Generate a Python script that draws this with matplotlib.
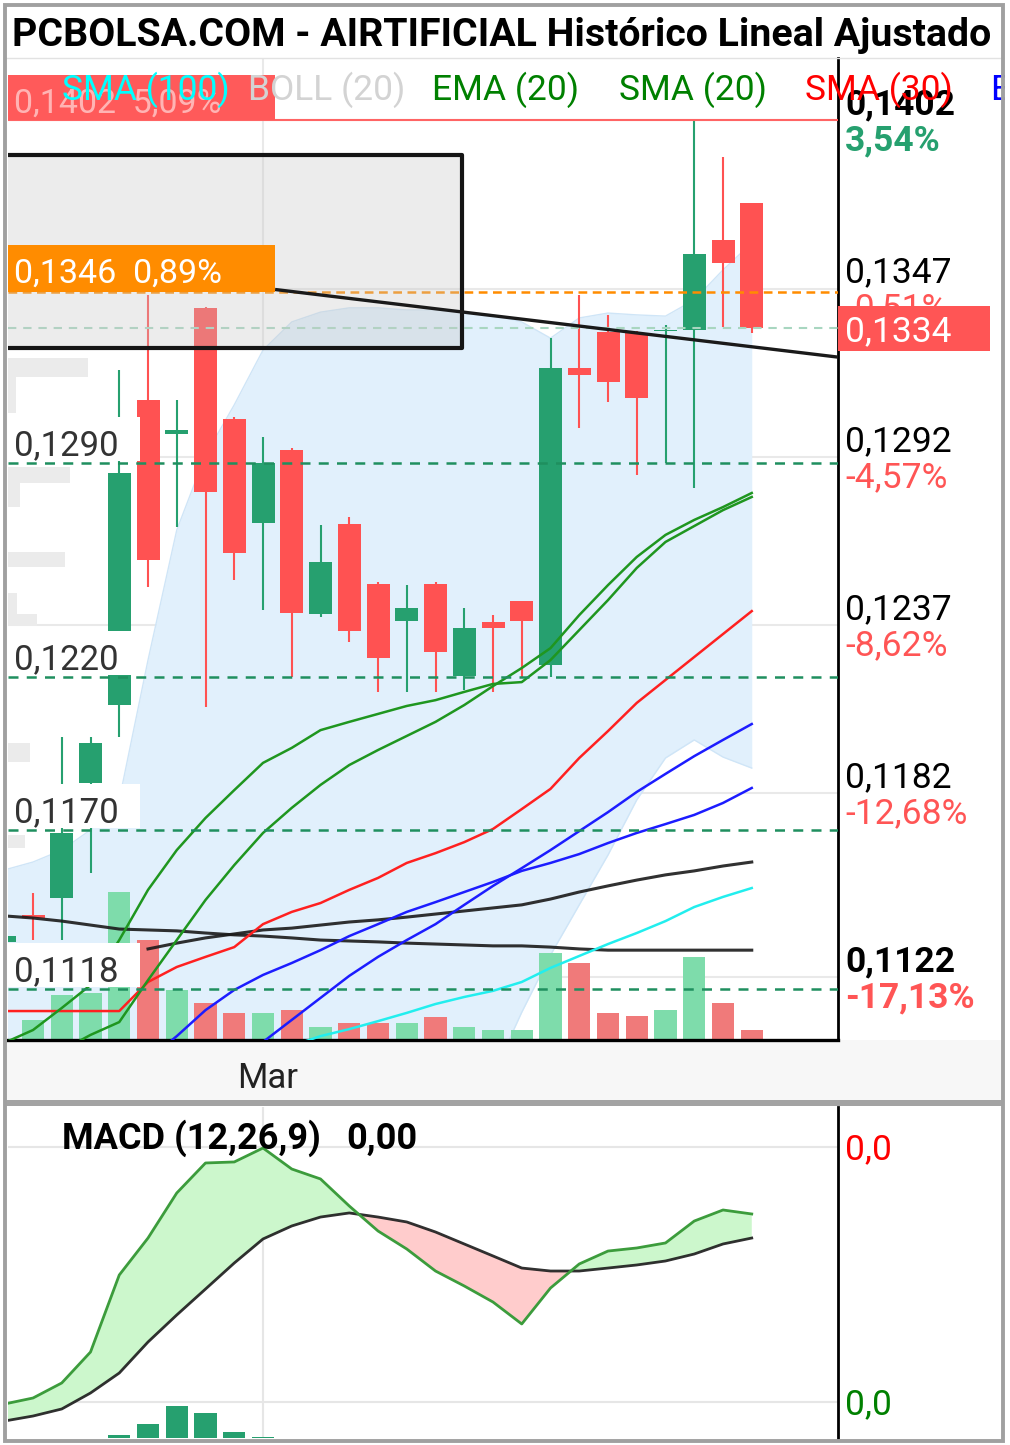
import numpy as np
import matplotlib
matplotlib.use("Agg")
import matplotlib.pyplot as plt
from matplotlib import transforms
from matplotlib.patches import Rectangle
from matplotlib.lines import Line2D

plt.rcParams['font.family'] = ['Roboto', 'DejaVu Sans']

# ------------------------------------------------------------------ data
idx = list(range(-1, 26))          # candle slots (slot 8 = first session of March)
month_ticks = [8]
month_labels = ['Mar']

opens = [0.11335, 0.11423, 0.11478, 0.11854, 0.12109, 0.13106, 0.12995, 0.13407, 0.13044,
         0.12704, 0.12942, 0.12407, 0.12701, 0.12505, 0.12384, 0.12505, 0.12204, 0.12380,
         0.12449, 0.12240, 0.13210, 0.13328, 0.13325, 0.13330, 0.13335, 0.13629, 0.13750]
closes = [0.11354, 0.11413, 0.11691, 0.11985, 0.12867, 0.12583, 0.13008, 0.12805, 0.12606,
          0.12900, 0.12410, 0.12576, 0.12351, 0.12263, 0.12426, 0.12282, 0.12361, 0.12361,
          0.12384, 0.13210, 0.13188, 0.13165, 0.13112, 0.13333, 0.13583, 0.13554, 0.13340]
highs = [0.11360, 0.11495, 0.12005, 0.12005, 0.13204, 0.13450, 0.13106, 0.13410, 0.13050,
         0.12985, 0.12950, 0.12697, 0.12724, 0.12510, 0.12501, 0.12510, 0.12426, 0.12403,
         0.12450, 0.13308, 0.13449, 0.13384, 0.13330, 0.13351, 0.14021, 0.13900, 0.13750]
lows = [0.11330, 0.11341, 0.11341, 0.11560, 0.12005, 0.12495, 0.12691, 0.12103, 0.12518,
        0.12420, 0.12201, 0.12397, 0.12315, 0.12152, 0.12152, 0.12152, 0.12158, 0.12152,
        0.12201, 0.12201, 0.13014, 0.13099, 0.12861, 0.12900, 0.12818, 0.13344, 0.13325]
volumes = [0, 20000, 45000, 47000, 148000, 100000, 50000, 37000, 27000, 27000, 30000, 13000,
           17000, 17000, 17000, 23000, 13000, 10000, 10000, 87000, 77000, 27000, 24000, 30000,
           83000, 37000, 10000]
volume_up = [1, 1, 1, 1, 1, 0, 1, 0, 0, 1, 0, 1, 0, 0, 1, 0, 1, 1, 1, 1, 0, 0, 0, 1, 1, 0, 0]

nan = np.nan
boll_upper = [0.11570, 0.11596, 0.11635, 0.11701, 0.11799, 0.12256, 0.12681, 0.12926, 0.13090,
              0.13269, 0.13361, 0.13393, 0.13407, 0.13407, 0.13400, 0.13400, 0.13393, 0.13384,
              0.13361, 0.13308, 0.13374, 0.13390, 0.13384, 0.13380, 0.13433, 0.13531, 0.13619]
boll_lower = [0.10980, 0.10970, 0.10950, 0.10930, 0.10880, 0.10700, 0.10600, 0.10550, 0.10520,
              0.10500, 0.10520, 0.10580, 0.10650, 0.10720, 0.10800, 0.10860, 0.10920, 0.10900,
              0.11105, 0.11292, 0.11456, 0.11619, 0.11799, 0.11936, 0.11995, 0.11939, 0.11903]
ema20 = [0.11005, 0.11047, 0.11119, 0.11194, 0.11341, 0.11505, 0.11635, 0.11740, 0.11831,
         0.11920, 0.11969, 0.12027, 0.12054, 0.12080, 0.12106, 0.12125, 0.12152, 0.12178,
         0.12184, 0.12256, 0.12354, 0.12452, 0.12557, 0.12642, 0.12694, 0.12746, 0.12789]
sma20 = [nan, nan, 0.10980, 0.11031, 0.11073, 0.11210, 0.11341, 0.11472, 0.11586,
         0.11691, 0.11773, 0.11848, 0.11913, 0.11962, 0.12008, 0.12054, 0.12109, 0.12171,
         0.12230, 0.12295, 0.12403, 0.12501, 0.12593, 0.12665, 0.12714, 0.12756, 0.12802]
sma30 = [0.11109, 0.11109, 0.11109, 0.11109, 0.11109, 0.11204, 0.11253, 0.11286, 0.11318,
         0.11393, 0.11433, 0.11462, 0.11505, 0.11544, 0.11593, 0.11625, 0.11661, 0.11704,
         0.11769, 0.11835, 0.11936, 0.12024, 0.12116, 0.12191, 0.12266, 0.12341, 0.12416]
blue_fast = [nan, nan, nan, nan, nan, nan, nan, nan, 0.10930,
             0.11008, 0.11080, 0.11152, 0.11224, 0.11286, 0.11341, 0.11393, 0.11456, 0.11518,
             0.11576, 0.11635, 0.11697, 0.11759, 0.11825, 0.11884, 0.11942, 0.11995, 0.12047]
blue_slow = [nan, nan, nan, nan, nan, 0.10950, 0.11027, 0.11112, 0.11178,
             0.11227, 0.11266, 0.11308, 0.11354, 0.11393, 0.11433, 0.11465, 0.11498, 0.11531,
             0.11567, 0.11593, 0.11622, 0.11658, 0.11691, 0.11720, 0.11750, 0.11789, 0.11838]
sma100 = [nan, nan, nan, nan, nan, nan, nan, nan, nan,
          nan, 0.10995, 0.11027, 0.11050, 0.11076, 0.11103, 0.11132, 0.11155, 0.11175,
          0.11204, 0.11250, 0.11289, 0.11328, 0.11364, 0.11403, 0.11449, 0.11482, 0.11511]
black_rise = [nan, nan, nan, nan, nan, 0.11312, 0.11331, 0.11348, 0.11361,
              0.11374, 0.11380, 0.11390, 0.11400, 0.11407, 0.11416, 0.11426, 0.11436, 0.11446,
              0.11456, 0.11475, 0.11498, 0.11518, 0.11537, 0.11554, 0.11567, 0.11583, 0.11596]
black_fall = [0.11420, 0.11413, 0.11403, 0.11390, 0.11377, 0.11374, 0.11371, 0.11364, 0.11358,
              0.11354, 0.11348, 0.11341, 0.11338, 0.11335, 0.11331, 0.11328, 0.11325, 0.11322,
              0.11322, 0.11318, 0.11312, 0.11308, 0.11308, 0.11308, 0.11308, 0.11308, 0.11308]

macd = [-0.000024, 0.000047, 0.000224, 0.000588, 0.001494, 0.001929, 0.002459, 0.002812, 0.002824,
        0.002988, 0.002741, 0.002624, 0.002306, 0.002012, 0.001800, 0.001541, 0.001365, 0.001176,
        0.000918, 0.001341, 0.001624, 0.001776, 0.001812, 0.001871, 0.002129, 0.002259, 0.002212]
macd_signal = [-0.000224, -0.000165, -0.000082, 0.000106, 0.000341, 0.000706, 0.001024, 0.001329,
               0.001635, 0.001918, 0.002071, 0.002176, 0.002224, 0.002176, 0.002118, 0.002000,
               0.001859, 0.001718, 0.001576, 0.001541, 0.001541, 0.001576, 0.001612, 0.001659,
               0.001741, 0.001859, 0.001929]
macd_hist = [0, 0, 0, 0, 0.00003, 0.00014, 0.00032, 0.00025, 0.00006, 0.00001, 0, 0, 0, 0,
             0, 0, 0, 0, 0, 0, 0, 0, 0, 0, 0, 0, 0]

right_ticks = [0.1402, 0.1347, 0.1292, 0.1237, 0.1182, 0.1122]
right_tick_labels = ['0,1402', '0,1347', '0,1292', '0,1237', '0,1182', '0,1122']
right_pct_labels = ['3,54%', '-0,51%', '-4,57%', '-8,62%', '-12,68%', '-17,13%']
right_bold = [True, False, False, False, False, True]

support_levels = [0.1290, 0.1220, 0.1170, 0.1118]
support_labels = ['0,1290', '0,1220', '0,1170', '0,1118']
last_price = 0.1334
last_price_label = '0,1334'
alert_high = 0.1402
alert_high_label = '0,1402  5,09%'
alert_orange = 0.1346
alert_orange_label = '0,1346  0,89%'
trend_x = [8.42, 28.0]
trend_y = [0.13467, 0.13246]
zone_x = [-1.5, 14.92]
zone_y = [0.13276, 0.13907]
macd_ticks = [0.0, 0.0030]
macd_tick_labels = ['0,0', '0,0']

legend_items = [('SMA (100)', '#00ffff'), ('BOLL (20)', '#d3d3d3'), ('EMA (20)', '#008000'),
                ('SMA (20)', '#008000'), ('SMA (30)', '#ff0000'), ('E', '#0000ff')]
title = 'PCBOLSA.COM - AIRTIFICIAL Histórico Lineal Ajustado'

# ------------------------------------------------------------------ layout
W, H, DPI = 1010, 1445, 100
fig = plt.figure(figsize=(W / DPI, H / DPI), dpi=DPI, facecolor='white')


def fx(x):
    return x / W


def fy(y):
    return 1 - y / H


MAIN_L, MAIN_R, MAIN_T, MAIN_B = 8, 838, 58, 1040
MACD_T, MACD_B = 1107, 1438
XLIM = (-0.87, 28.0)
YLIM = (0.110144, 0.142235)
MACD_YLIM = (-0.0004235, 0.0034706)
PX = (YLIM[1] - YLIM[0]) / (MAIN_B - MAIN_T)      # price units per pixel

GREEN = '#26a06f'
RED = '#ff5252'
VOL_GREEN = '#7edcab'
VOL_RED = '#f07a7a'
SUPPORT = '#1f8f5f'
FS = 25.5

ax = fig.add_axes([fx(MAIN_L), fy(MAIN_B), (MAIN_R - MAIN_L) / W, (MAIN_B - MAIN_T) / H])
axm = fig.add_axes([fx(MAIN_L), fy(MACD_B), (MAIN_R - MAIN_L) / W, (MACD_B - MACD_T) / H])

pix = transforms.Affine2D().scale(1 / W, -1 / H).translate(0, 1) + fig.transFigure

# background pieces of the page
fig.add_artist(Rectangle((fx(5), fy(1100)), 998 / W, 60 / H, transform=fig.transFigure,
                         fc='#f7f7f7', ec='none', zorder=-1))
fig.add_artist(Rectangle((fx(5), fy(1106)), 998 / W, 6 / H, transform=fig.transFigure,
                         fc='#a3a3a3', ec='none', zorder=1))
fig.add_artist(Line2D([fx(5), fx(1003)], [fy(58), fy(58)], transform=fig.transFigure,
                      color='#e2e2e2', lw=1, zorder=1))

# ------------------------------------------------------------------ main chart
x = np.array(idx, dtype=float)
o, c = np.array(opens), np.array(closes)
hi, lo = np.array(highs), np.array(lows)

ax.set_xlim(*XLIM)
ax.set_ylim(*YLIM)
ax.set_axisbelow(True)
ax.set_xticks(month_ticks)
ax.set_yticks(right_ticks)
ax.grid(True, color='#e9e9e9', lw=1.5)
ax.tick_params(length=0, labelbottom=False, labelleft=False)
for s in ['left', 'top']:
    ax.spines[s].set_visible(False)
ax.spines['right'].set_color('black')
ax.spines['right'].set_linewidth(2.0)
ax.spines['bottom'].set_color('black')
ax.spines['bottom'].set_linewidth(2.4)

# Bollinger band
ax.fill_between(x, boll_lower, boll_upper, color='#e1f0fc', lw=0, zorder=1)
ax.plot(x, boll_upper, color='#cfe5f7', lw=1, zorder=1.1)
ax.plot(x, boll_lower, color='#cfe5f7', lw=1, zorder=1.1)

# faint ghost labels on the left edge
ghosts = [(8, 358, 88, 377), (8, 377, 16, 413), (8, 467, 70, 483), (8, 483, 20, 507),
          (8, 552, 65, 567), (8, 593, 17, 614), (8, 614, 37, 626), (8, 743, 30, 762),
          (8, 835, 25, 848)]
for gx0, gy0, gx1, gy1 in ghosts:
    ax.add_patch(Rectangle((gx0, gy0), gx1 - gx0, gy1 - gy0, transform=pix,
                           fc='#ebebeb', ec='none', zorder=1.5))

# volume on its own scale at the bottom
VOL_AXIS_MAX = 982000
vol_tr = transforms.blended_transform_factory(
    ax.transData, transforms.Affine2D().scale(1, 1 / VOL_AXIS_MAX) + ax.transAxes)
vol_cols = [VOL_GREEN if u else VOL_RED for u in volume_up]
ax.bar(x, volumes, width=0.77, color=vol_cols, transform=vol_tr, zorder=2, lw=0)

# candles
up = c >= o
ccol = [GREEN if u else RED for u in up]
ax.vlines(x, lo, hi, colors=ccol, lw=1.5, zorder=4)
ax.bar(x, c - o, bottom=o, width=0.8, color=ccol, lw=0, zorder=4.1)

# moving averages
ax.plot(x, black_fall, color='#1a1a1a', lw=2.2, alpha=0.9, zorder=5)
ax.plot(x, black_rise, color='#1a1a1a', lw=2.2, alpha=0.9, zorder=5)
ax.plot(x, sma100, color='#22eeee', lw=1.8, zorder=5)
ax.plot(x, blue_slow, color='#1c1cff', lw=1.8, zorder=5)
ax.plot(x, blue_fast, color='#1c1cff', lw=1.8, zorder=5)
ax.plot(x, sma30, color='#ff2020', lw=1.8, zorder=5)
ax.plot(x, ema20, color='#1f961f', lw=1.8, zorder=5)
ax.plot(x, sma20, color='#1f961f', lw=1.8, zorder=5)

# horizontal levels
for lvl in support_levels:
    ax.axhline(lvl, color=SUPPORT, lw=1.8, ls=(0, (4, 3.3)), zorder=6)
ax.axhline(last_price, color='#a8d6c0', lw=1.5, ls=(0, (4, 3.3)), zorder=6)
ax.axhline(alert_orange, color='#ff8c00', lw=1.8, ls=(0, (3.5, 2.2)), zorder=6)
ax.axhline(alert_high, color='#ff6464', lw=1.5, zorder=6)

# grey zone and trend line
ax.add_patch(Rectangle((zone_x[0], zone_y[0]), zone_x[1] - zone_x[0], zone_y[1] - zone_y[0],
                       fc=(0.78, 0.78, 0.78, 0.33), ec='#151515', lw=3.0,
                       joinstyle='round', zorder=7))
ax.plot(trend_x, trend_y, color='#1a1a1a', lw=2.4, zorder=8, solid_capstyle='butt')

blend = transforms.blended_transform_factory(ax.transAxes, ax.transData)


def off(base, dy):
    return transforms.offset_copy(base, fig=fig, x=0, y=dy, units='dots')


AXW = MAIN_R - MAIN_L
# alert label boxes (left)
ax.add_patch(Rectangle((0, alert_high), 267 / AXW, 45 * PX, transform=blend,
                       fc='#ff5a5a', ec='none', zorder=9))
ax.text(6 / AXW, alert_high, alert_high_label, transform=off(blend, 8), color='white',
        alpha=0.55, fontsize=FS - 1, va='baseline', zorder=9.5)
ax.add_patch(Rectangle((0, alert_orange), 267 / AXW, 47 * PX, transform=blend,
                       fc='#ff8c00', ec='none', zorder=9))
ax.text(6 / AXW, alert_orange, alert_orange_label, transform=off(blend, 9), color='white',
        fontsize=FS - 1, va='baseline', zorder=9.5)

# support labels (left)
for lvl, lab in zip(support_levels, support_labels):
    ax.add_patch(Rectangle((0, lvl + 2 * PX), 132 / AXW, 44 * PX, transform=blend,
                           fc='white', ec='none', zorder=9))
    ax.text(6 / AXW, lvl, lab, transform=off(blend, 8), color='#333333',
            fontsize=FS - 0.5, va='baseline', zorder=9.5)

# right axis labels
xr = (845 - MAIN_L) / AXW
for p, lab, pct, b in zip(right_ticks, right_tick_labels, right_pct_labels, right_bold):
    w = 'bold' if b else 'normal'
    ax.text(xr, p, lab, transform=off(blend, 6), color='black', fontsize=FS,
            fontweight=w, va='baseline', clip_on=False, zorder=20)
    pc = GREEN if not pct.startswith('-') else '#ff5555'
    ax.text(xr, p, pct, transform=off(blend, -30), color=pc, fontsize=FS,
            fontweight=w, va='baseline', clip_on=False, zorder=20)
ax.add_patch(Rectangle((1.0, last_price - 22.5 * PX), 152 / AXW, 45 * PX, transform=blend,
                       fc='#ff5555', ec='none', clip_on=False, zorder=21))
ax.text(xr, last_price, last_price_label, transform=off(blend, -13), color='white',
        fontsize=FS, va='baseline', clip_on=False, zorder=22)

# month label
xlab_tr = transforms.blended_transform_factory(ax.transData, fig.transFigure)
for t, lab in zip(month_ticks, month_labels):
    ax.text(t + 0.15, fy(1088), lab, transform=xlab_tr, ha='center', va='baseline',
            fontsize=FS - 0.5, color='#222222', clip_on=False)

# ------------------------------------------------------------------ MACD panel
axm.set_xlim(*XLIM)
axm.set_ylim(*MACD_YLIM)
axm.set_axisbelow(True)
axm.set_xticks(month_ticks)
axm.set_yticks(macd_ticks)
axm.grid(True, color='#e6e6e6', lw=1.5)
axm.tick_params(length=0, labelbottom=False, labelleft=False)
for s in ['left', 'top', 'bottom']:
    axm.spines[s].set_visible(False)
axm.spines['right'].set_color('black')
axm.spines['right'].set_linewidth(2.0)

m = np.array(macd)
sg = np.array(macd_signal)
axm.fill_between(x, m, sg, where=m >= sg, interpolate=True, color='#ccf7cc', lw=0, zorder=1)
axm.fill_between(x, m, sg, where=m < sg, interpolate=True, color='#ffcccc', lw=0, zorder=1)
HIST_AXIS_MAX = 0.00331
hist_tr = transforms.blended_transform_factory(
    axm.transData, transforms.Affine2D().scale(1, 1 / HIST_AXIS_MAX) + axm.transAxes)
axm.bar(x, macd_hist, width=0.78, color=GREEN, lw=0, transform=hist_tr, zorder=2)
axm.plot(x, sg, color='#1a1a1a', lw=2.0, alpha=0.9, zorder=3)
axm.plot(x, m, color='#3c9c3c', lw=2.0, zorder=4)

blend_m = transforms.blended_transform_factory(axm.transAxes, axm.transData)
for v, lab, col in zip(macd_ticks, macd_tick_labels, ['#008000', '#ff0000']):
    axm.text(xr, v, lab, transform=off(blend_m, -12), color=col, fontsize=FS,
             va='baseline', clip_on=False)

fig.text(fx(62), fy(1149), 'MACD (12,26,9)', fontsize=26, fontweight='bold', va='baseline')
fig.text(fx(346), fy(1149), '0,00', fontsize=26, fontweight='bold', va='baseline')

# ------------------------------------------------------------------ header & legend
legend_x = [62, 248, 432, 619, 805, 990]
for (lab, col), lx in zip(legend_items, legend_x):
    fig.text(fx(lx), fy(100), lab, color=col, fontsize=FS, va='baseline', zorder=25)

tt = fig.text(fx(12), fy(46), title, fontsize=27.5, fontweight='bold', va='baseline', zorder=25)
fig.canvas.draw()
bb = tt.get_window_extent()
tt.set_fontsize(tt.get_fontsize() * 981 / bb.width)

# frame of the page
fig.add_artist(Rectangle((fx(1005), 0), 5 / W, 1, transform=fig.transFigure,
                         fc='white', ec='none', zorder=29))
fig.add_artist(Rectangle((fx(5), fy(1441)), 998 / W, 1436 / H, transform=fig.transFigure,
                         fill=False, ec='#a0a0a0', lw=2.8, zorder=30))

fig.savefig('out.png', dpi=DPI, facecolor='white')
